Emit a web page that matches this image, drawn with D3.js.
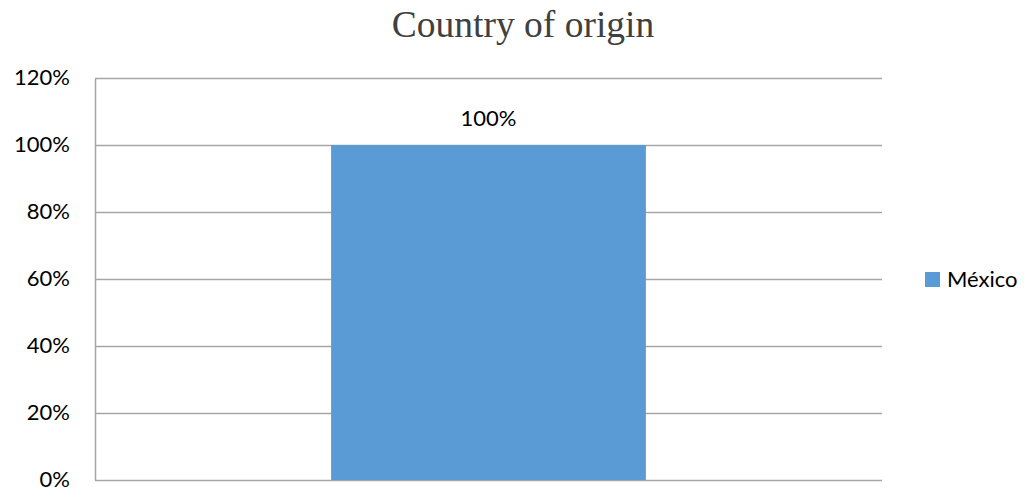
<!DOCTYPE html>
<html>
<head>
<meta charset="utf-8">
<script src="https://cdn.jsdelivr.net/npm/d3@7"></script>
<style>
  body { margin: 0; background: #fff; }
</style>
</head>
<body>
<div id="wrapper"></div>
<script>
// data
const categories = ["México"];
const values = [1.0];
const yTicks = [0, 0.2, 0.4, 0.6, 0.8, 1.0, 1.2];
const chartTitle = "Country of origin";

const dimensions = {
  width: 1027,
  height: 491,
  margin: { top: 78, right: 145, bottom: 11, left: 95 },
};
dimensions.boundedWidth = dimensions.width - dimensions.margin.left - dimensions.margin.right;
dimensions.boundedHeight = dimensions.height - dimensions.margin.top - dimensions.margin.bottom;

const labelFont = "Lato, 'Open Sans', sans-serif";
const labelSize = 22;

const svg = d3.select("#wrapper")
  .append("svg")
    .attr("width", dimensions.width)
    .attr("height", dimensions.height)
    .style("font-family", labelFont);

const bounds = svg.append("g")
  .attr("transform", `translate(${dimensions.margin.left},${dimensions.margin.top})`);

const yScale = d3.scaleLinear()
  .domain([0, 1.2])
  .range([dimensions.boundedHeight, 0]);

// single category: bar takes about 40% of the plot width
const xScale = d3.scaleBand()
  .domain(categories)
  .range([0, dimensions.boundedWidth])
  .paddingInner(0)
  .paddingOuter(0.75);

const pct = d3.format(".0%");

// gridlines
bounds.append("g")
  .selectAll("line")
  .data(yTicks)
  .join("line")
    .attr("x1", 0)
    .attr("x2", dimensions.boundedWidth)
    .attr("y1", d => Math.round(yScale(d)) + 0.5)
    .attr("y2", d => Math.round(yScale(d)) + 0.5)
    .attr("stroke", "#a6a6a6")
    .attr("stroke-width", 1.5);

// y axis
const yAxis = bounds.append("g")
  .call(d3.axisLeft(yScale).tickValues(yTicks).tickFormat(pct).tickSize(0).tickPadding(25));
yAxis.select(".domain").attr("stroke", "#a6a6a6").attr("stroke-width", 1.5);
yAxis.selectAll("text")
  .attr("font-size", labelSize)
  .attr("dy", "0.3em")
  .attr("fill", "#000")
  .style("font-family", labelFont);

// bars
bounds.append("g")
  .selectAll("rect")
  .data(values)
  .join("rect")
    .attr("x", (d, i) => xScale(categories[i]))
    .attr("width", xScale.bandwidth())
    .attr("y", d => yScale(d))
    .attr("height", d => dimensions.boundedHeight - yScale(d))
    .attr("fill", "#5b9bd5");

// value labels
bounds.append("g")
  .selectAll("text")
  .data(values)
  .join("text")
    .attr("x", (d, i) => xScale(categories[i]) + xScale.bandwidth() / 2)
    .attr("y", d => yScale(d) - 19)
    .attr("text-anchor", "middle")
    .attr("font-size", labelSize)
    .attr("fill", "#000")
    .text(d => pct(d));

// title
svg.append("text")
  .attr("x", 523)
  .attr("y", 37)
  .attr("text-anchor", "middle")
  .attr("font-size", 37.5)
  .attr("fill", "#404040")
  .style("font-family", "'Liberation Serif', 'DejaVu Serif', serif")
  .text(chartTitle);

// legend
const legend = svg.append("g")
  .attr("transform", `translate(925, ${dimensions.margin.top + yScale(0.6) - 7})`);
legend.selectAll("rect")
  .data(categories)
  .join("rect")
    .attr("width", 15)
    .attr("height", 15)
    .attr("fill", "#5b9bd5");
legend.selectAll("text")
  .data(categories)
  .join("text")
    .attr("x", 22)
    .attr("y", 15)
    .attr("font-size", labelSize)
    .attr("fill", "#000")
    .text(d => d);
</script>
</body>
</html>
